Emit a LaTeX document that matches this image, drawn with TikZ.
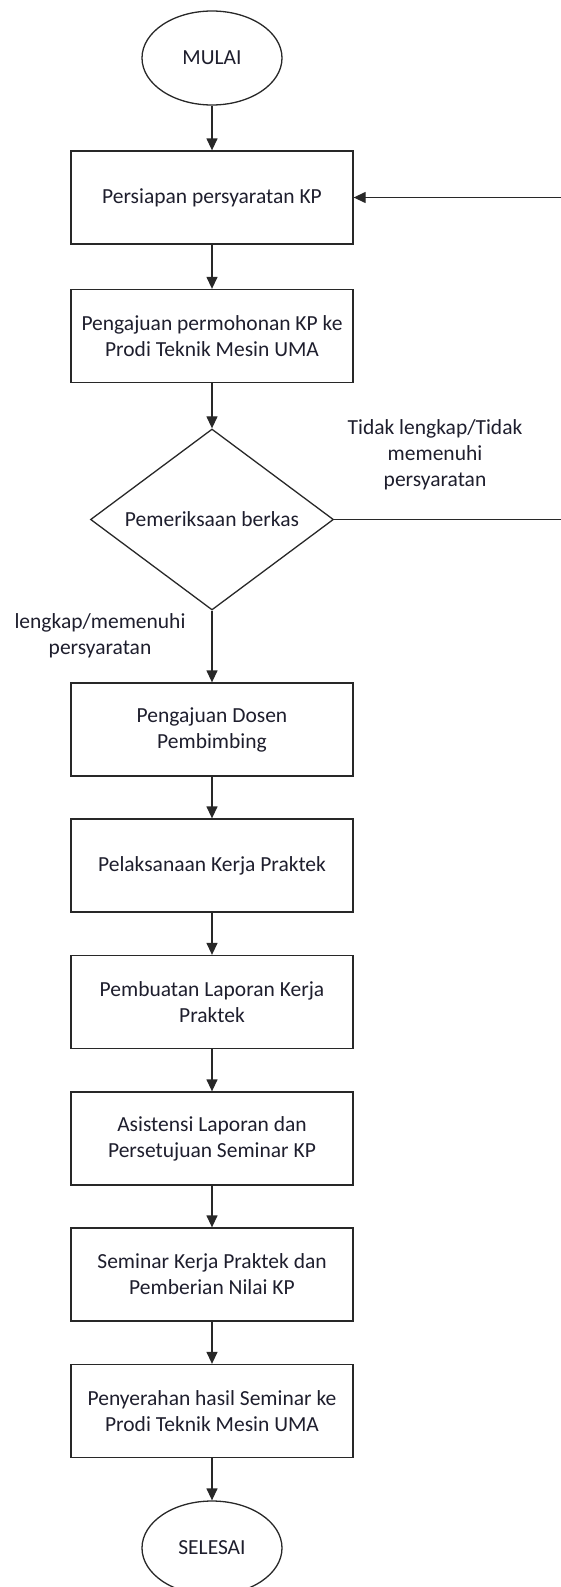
\documentclass[tikz,border=0pt]{standalone}
\usepackage{fontspec}
\setmainfont{Carlito}
\usepackage{xcolor}
\definecolor{fcline}{RGB}{40,40,40}
\definecolor{fctext}{RGB}{30,30,45}
\usepackage{tikz}
\usetikzlibrary{arrows.meta, positioning, shapes.geometric}

\tikzset{
  fcfont/.style={font=\fontsize{21.5}{26}\selectfont, text=fctext, align=center},
  prosesbox/.style={fcfont, draw=fcline, line width=1.3pt, rectangle, minimum width=282pt, minimum height=93pt, inner sep=0pt},
  terminal/.style={fcfont, draw=fcline, line width=1.3pt, ellipse, minimum width=140pt, minimum height=94pt, inner sep=0pt},
  keputusan/.style={fcfont, draw=fcline, line width=1.3pt, diamond, aspect=1.34, minimum width=243pt, minimum height=181pt, inner sep=0pt},
  alur/.style={draw=fcline, line width=1.3pt, -{Triangle[length=12pt, width=11pt]}},
  catatan/.style={fcfont}
}

\begin{document}
\begin{tikzpicture}[x=1pt, y=-1pt]
  \useasboundingbox (0,0) rectangle (560,1587);

  % Start
  \node[terminal] (mulai) at (212,58) {MULAI};

  % Steps
  \node[prosesbox] (persiapan) at (212,197.5) {Persiapan persyaratan KP};
  \node[prosesbox] (permohonan) at (212,336) {Pengajuan permohonan KP ke\\Prodi Teknik Mesin UMA};
  \node[keputusan] (berkas) at (212,519.5) {Pemeriksaan berkas};
  \node[prosesbox] (dosen) at (212,729.5) {Pengajuan Dosen\\Pembimbing};
  \node[prosesbox] (pelaksanaan) at (212,865.5) {Pelaksanaan Kerja Praktek};
  \node[prosesbox] (laporan) at (212,1002) {Pembuatan Laporan Kerja\\Praktek};
  \node[prosesbox] (asistensi) at (212,1138.5) {Asistensi Laporan dan\\Persetujuan Seminar KP};
  \node[prosesbox] (seminar) at (212,1274.5) {Seminar Kerja Praktek dan\\Pemberian Nilai KP};
  \node[prosesbox] (penyerahan) at (212,1411) {Penyerahan hasil Seminar ke\\Prodi Teknik Mesin UMA};

  % End
  \node[terminal] (selesai) at (212,1548) {SELESAI};

  % Branch labels
  \node[catatan] (tidak) at (435,455) {Tidak lengkap/Tidak\\memenuhi\\persyaratan};
  \node[catatan] (lengkap) at (100,636) {lengkap/memenuhi\\persyaratan};

  % Main flow
  \draw[alur] (mulai) -- (persiapan);
  \draw[alur] (persiapan) -- (permohonan);
  \draw[alur] (permohonan) -- (berkas);
  \draw[alur] (berkas) -- (dosen);
  \draw[alur] (dosen) -- (pelaksanaan);
  \draw[alur] (pelaksanaan) -- (laporan);
  \draw[alur] (laporan) -- (asistensi);
  \draw[alur] (asistensi) -- (seminar);
  \draw[alur] (seminar) -- (penyerahan);
  \draw[alur] (penyerahan) -- (selesai);

  % Feedback loop (runs past the right edge)
  \coordinate (tepi) at (562,519.5);
  \draw[alur] (berkas.east) -- (tepi) |- (persiapan.east);
\end{tikzpicture}
\end{document}
